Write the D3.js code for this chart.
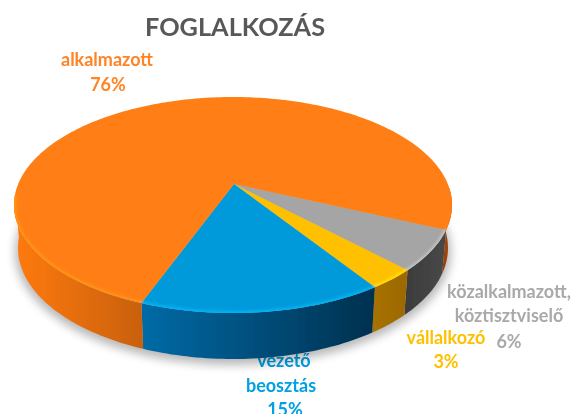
<!DOCTYPE html>
<html>
<head>
<meta charset="utf-8">
<script src="https://cdnjs.cloudflare.com/ajax/libs/d3/7.8.5/d3.min.js"></script>
<style>
  html, body { margin: 0; padding: 0; background: #fff; }
  text { font-family: Lato, "Open Sans", sans-serif; font-weight: 700; text-anchor: middle; }
</style>
</head>
<body>
<div id="chart"></div>
<script>
// clockwise from the grey/orange edge, same order as the picture
var categories = ["közalkalmazott, köztisztviselő", "vállalkozó", "vezető beosztás", "alkalmazott"];
var values = [6, 3, 15, 76];
var colors = ["#a5a5a5", "#ffc000", "#009adb", "#ff7f13"];
var textColors = ["#a9a9a9", "#ffc000", "#00a0e3", "#ff8426"];

var width = 574, height = 414;

var svg = d3.select("#chart").append("svg")
  .attr("width", width)
  .attr("height", height)
  .style("display", "block");

var defs = svg.append("defs");
function blur(id, dev) {
  defs.append("filter").attr("id", id)
    .attr("filterUnits", "userSpaceOnUse")
    .attr("x", 0).attr("y", 0).attr("width", width).attr("height", height)
    .append("feGaussianBlur").attr("stdDeviation", dev);
}
blur("soft", 0.55);
blur("shadow", 5);
blur("glow", 1.4);

var root = svg.append("g").attr("filter", "url(#soft)");

// top face and bottom rim of the disc, the disc centre sits above the ellipse centre (perspective)
var topE = { cx: 233, cy: 205, rx: 219, ry: 108 };
var botE = { cx: 233, cy: 248, rx: 215, ry: 111 };
var centreV = (184 - topE.cy) / topE.ry;

defs.append("clipPath").attr("id", "topClip")
  .append("ellipse")
  .attr("cx", topE.cx).attr("cy", topE.cy)
  .attr("rx", topE.rx).attr("ry", topE.ry);

function project(a) {
  var u = Math.sin(a), v = -Math.cos(a);
  var d = 1 + v * centreV;
  return [u * Math.sqrt(1 - centreV * centreV) / d, (v + centreV) / d];
}
function onEllipse(e, a) {
  var p = project(a);
  return [e.cx + e.rx * p[0], e.cy + e.ry * p[1]];
}
function sample(a0, a1) {
  var n = Math.max(2, Math.ceil(Math.abs(a1 - a0) / 0.02));
  return d3.range(n + 1).map(i => a0 + (a1 - a0) * i / n);
}

var color = d3.scaleOrdinal().domain(categories).range(colors);
var textColor = d3.scaleOrdinal().domain(categories).range(textColors);
var line = d3.line();

var pie = d3.pie().sort(null)
  .startAngle(114 * Math.PI / 180)
  .endAngle(474 * Math.PI / 180);
var slices = pie(values).map((d, i) => Object.assign(d, { name: categories[i] }));

// labels go under the pie, the pie covers the top of "vezető"
var labels = root.append("g");
function label(x, y, fill, txt) {
  labels.append("text").attr("x", x).attr("y", y)
    .attr("font-size", 18).attr("fill", fill).text(txt);
}
labels.append("text").attr("x", 235).attr("y", 36)
  .attr("font-size", 25.3).attr("fill", "#595959").text("FOGLALKOZÁS");
label(107, 66, textColor(categories[3]), "alkalmazott");
label(108, 91, textColor(categories[3]), "76%");
label(509, 298, textColor(categories[0]), "közalkalmazott,");
label(509, 322, textColor(categories[0]), "köztisztviselő");
label(509, 348, textColor(categories[0]), "6%");
label(446, 344, textColor(categories[1]), "vállalkozó");
label(446, 368, textColor(categories[1]), "3%");
label(284, 367, textColor(categories[2]), "vezető");
label(281, 392, textColor(categories[2]), "beosztás");
label(285, 416, textColor(categories[2]), "15%");

root.append("ellipse")
  .attr("cx", botE.cx).attr("cy", botE.cy + 4)
  .attr("rx", botE.rx + 3).attr("ry", botE.ry + 2)
  .attr("fill", "#000").attr("opacity", 0.28)
  .attr("filter", "url(#shadow)");

// side wall, only the part facing us, ramp runs left to right on screen
var frontStart = 92 * Math.PI / 180, frontEnd = 264 * Math.PI / 180;
var sideRamp = {
  "közalkalmazott, köztisztviselő": ["#3c3c3c", "#484848"],
  "vállalkozó": ["#a87200", "#9c6800"],
  "vezető beosztás": ["#006ba6", "#00304f"],
  "alkalmazott": ["#ff7a0c", "#c9600f"]
};
var sides = root.append("g");
slices.forEach((s, i) => {
  [0, 2 * Math.PI].forEach((shift, j) => {
    var a0 = Math.max(s.startAngle, frontStart + shift);
    var a1 = Math.min(s.endAngle, frontEnd + shift);
    if (a1 <= a0) return;
    var angles = sample(a0, a1);
    var topPts = angles.map(a => onEllipse(topE, a));
    var botPts = angles.map(a => onEllipse(botE, a)).reverse();
    var xs = topPts.concat(botPts).map(q => q[0]);
    var id = "side" + i + "_" + j;
    var ramp = shift > 0 ? ["#8a3d08", "#b5500a"] : sideRamp[s.name];
    var g = defs.append("linearGradient").attr("id", id)
      .attr("gradientUnits", "userSpaceOnUse")
      .attr("x1", d3.min(xs)).attr("x2", d3.max(xs))
      .attr("y1", 0).attr("y2", 0);
    g.append("stop").attr("offset", 0).attr("stop-color", ramp[0]);
    g.append("stop").attr("offset", 1).attr("stop-color", ramp[1]);
    sides.append("path")
      .attr("d", line(topPts.concat(botPts)) + "Z")
      .attr("fill", "url(#" + id + ")");
  });
});

// top face
var faces = root.append("g");
slices.forEach(s => {
  var pts = sample(s.startAngle, s.endAngle).map(a => onEllipse(topE, a));
  faces.append("path")
    .attr("d", line([[234, 184]].concat(pts)) + "Z")
    .attr("fill", color(s.name));
});

// light bevel along the front rim, kept inside the top face
var rim = root.append("g")
  .attr("clip-path", "url(#topClip)")
  .append("g")
  .attr("filter", "url(#glow)");
slices.forEach(s => {
  var a0 = Math.max(s.startAngle, frontStart);
  var a1 = Math.min(s.endAngle, frontEnd);
  if (a1 <= a0) return;
  var pts = sample(a0, a1).map(a => onEllipse(topE, a));
  rim.append("path")
    .attr("d", line(pts))
    .attr("fill", "none")
    .attr("stroke", d3.color(color(s.name)).brighter(0.6))
    .attr("stroke-width", 3);
});
</script>
</body>
</html>
